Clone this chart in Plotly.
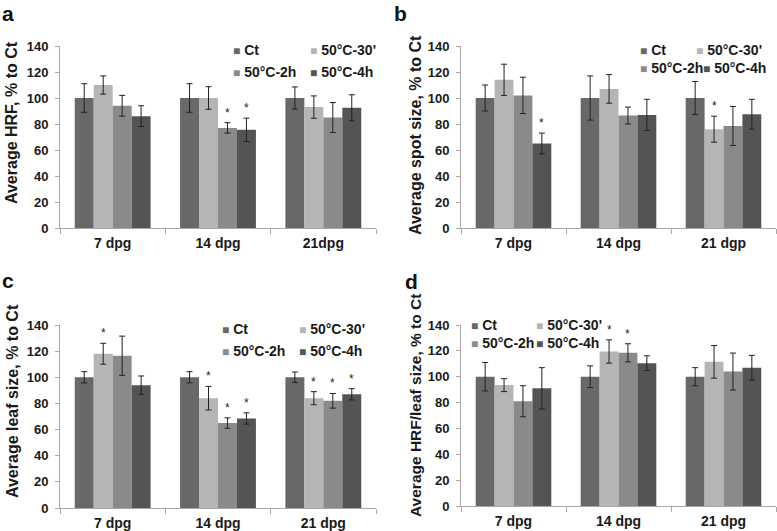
import plotly.graph_objects as go

series = ["Ct", "50°C-30'", "50°C-2h", "50°C-4h"]
colors = ["#686868", "#b5b5b5", "#8a8a8a", "#545454"]

cats_a = ["7 dpg", "14 dpg", "21dpg"]
cats_b = ["7 dpg", "14 dpg", "21 dgp"]
cats_c = ["7 dpg", "14 dpg", "21 dpg"]
cats_d = ["7 dpg", "14 dpg", "21 dpg"]

# panel a: Average HRF
a_ct = [100, 100, 100]
a_30 = [110, 100, 93]
a_2h = [94, 77, 85]
a_4h = [86, 75.5, 92.5]
a_ct_err = [11, 11, 8.5]
a_30_err = [7, 8.7, 8.6]
a_2h_err = [8, 4, 11.5]
a_4h_err = [8, 9, 10]
a_stars = [(1, 2), (1, 3)]

# panel b: Average spot size
b_ct = [100, 100, 100]
b_30 = [114, 107, 76]
b_2h = [102, 86.5, 78.5]
b_4h = [65, 87, 87.5]
b_ct_err = [10, 17, 12.7]
b_30_err = [12, 11, 10]
b_2h_err = [14, 6.5, 15]
b_4h_err = [8, 12, 11.5]
b_stars = [(0, 3), (2, 1)]

# panel c: Average leaf size
c_ct = [100, 100, 100]
c_30 = [118, 84, 84]
c_2h = [116.5, 65, 82]
c_4h = [94, 68.5, 87]
c_ct_err = [4.3, 4.3, 4]
c_30_err = [8, 9, 5]
c_2h_err = [15, 4, 5.6]
c_4h_err = [7, 4.3, 4.3]
c_stars = [(0, 1), (1, 1), (1, 2), (1, 3), (2, 1), (2, 2), (2, 3)]

# panel d: Average HRF/leaf size
d_ct = [100, 100, 100]
d_30 = [93.5, 119.5, 111.5]
d_2h = [81, 118.5, 104]
d_4h = [91, 110.5, 107]
d_ct_err = [11, 8.4, 7]
d_30_err = [5, 9, 12.6]
d_2h_err = [12, 7, 14.3]
d_4h_err = [16, 5.7, 9.5]
d_stars = [(1, 1), (1, 2)]

W, H = 777, 531
FONT = "Liberation Sans, Arial, sans-serif"
BARGAP = 0.28
TEXT_OFF = 40   # legend text offset from legend left edge

panels = [
    dict(cats=cats_a, vals=[a_ct, a_30, a_2h, a_4h], errs=[a_ct_err, a_30_err, a_2h_err, a_4h_err],
         stars=a_stars, title="Average HRF, % to Ct", letter="a", tsize=16,
         px=(60, 376), py=(46, 228), tx=12, ty=123, lx=0, ly=0,
         leg=[(233, 50), (310, 50), (233, 72), (310, 72)]),
    dict(cats=cats_b, vals=[b_ct, b_30, b_2h, b_4h], errs=[b_ct_err, b_30_err, b_2h_err, b_4h_err],
         stars=b_stars, title="Average spot size, % to Ct", letter="b", tsize=16,
         px=(461, 776), py=(46, 228), tx=415, ty=135, lx=392, ly=0,
         leg=[(640, 50), (696, 50), (640, 68), (703, 68)]),
    dict(cats=cats_c, vals=[c_ct, c_30, c_2h, c_4h], errs=[c_ct_err, c_30_err, c_2h_err, c_4h_err],
         stars=c_stars, title="Average leaf size, % to Ct", letter="c", tsize=16,
         px=(60, 376), py=(325, 508), tx=12, ty=401, lx=0, ly=267,
         leg=[(222, 329), (299, 329), (222, 351), (299, 351)]),
    dict(cats=cats_d, vals=[d_ct, d_30, d_2h, d_4h], errs=[d_ct_err, d_30_err, d_2h_err, d_4h_err],
         stars=d_stars, title="Average HRF/leaf size, % to Ct", letter="d", tsize=15.5,
         px=(461, 776), py=(325, 506), tx=415, ty=406, lx=403, ly=268,
         leg=[(471, 325), (536, 325), (471, 343), (536, 343)]),
]

fig = go.Figure()
layout = dict(width=W, height=H, margin=dict(l=0, r=0, t=0, b=0, autoexpand=False),
              paper_bgcolor="white", plot_bgcolor="white",
              barmode="group", bargap=BARGAP, bargroupgap=0,
              font=dict(family=FONT, color="#1a1a1a"), showlegend=True)
annotations = []

for k, p in enumerate(panels):
    xa = "x" if k == 0 else f"x{k+1}"
    ya = "y" if k == 0 else f"y{k+1}"
    xkey = "xaxis" if k == 0 else f"xaxis{k+1}"
    ykey = "yaxis" if k == 0 else f"yaxis{k+1}"
    for i, name in enumerate(series):
        n = 4 * k + i + 1
        lkey = "legend" if n == 1 else f"legend{n}"
        grp = f"p{k}s{i}"
        fig.add_trace(go.Bar(
            x=p["cats"], y=p["vals"][i], name=name, xaxis=xa, yaxis=ya,
            marker=dict(color=colors[i], line=dict(width=0)),
            error_y=dict(type="data", array=p["errs"][i], color="#222222", thickness=1, width=3),
            legendgroup=grp, showlegend=False,
        ))
        # legend entry: coloured square glyph + label (symbol itself kept invisible)
        fig.add_trace(go.Scatter(
            x=[None], y=[None], xaxis=xa, yaxis=ya, mode="markers",
            marker=dict(color="rgba(0,0,0,0)", size=1, line=dict(width=0)),
            name=f'<span style="color:{colors[i]};font-size:12px">■</span> {name}',
            legend=lkey, legendgroup=grp, showlegend=True, hoverinfo="skip",
        ))
        tx0, ty0 = p["leg"][i]
        layout[lkey] = dict(x=(tx0 - TEXT_OFF) / W, y=1 - ty0 / H,
                            xanchor="left", yanchor="middle", orientation="h",
                            bgcolor="rgba(0,0,0,0)", borderwidth=0,
                            font=dict(family=FONT, size=14, weight="bold", color="#1a1a1a"))
    layout[xkey] = dict(domain=[p["px"][0] / W, p["px"][1] / W], anchor=ya,
                        type="category", showline=True, linecolor="#a8a8a8", linewidth=1,
                        ticks="outside", tickson="boundaries", ticklen=5, tickcolor="#a8a8a8",
                        ticklabelstandoff=2,
                        tickfont=dict(family=FONT, size=14, weight="bold", color="#1a1a1a"),
                        showgrid=False, zeroline=False, range=[-0.5, 2.5])
    layout[ykey] = dict(domain=[1 - p["py"][1] / H, 1 - p["py"][0] / H], anchor=xa,
                        range=[0, 140], dtick=20, showline=True, linecolor="#a8a8a8", linewidth=1,
                        ticks="outside", ticklen=4, tickcolor="#a8a8a8", ticklabelstandoff=4,
                        tickfont=dict(family=FONT, size=13, weight="bold", color="#1a1a1a"),
                        showgrid=False, zeroline=False)
    # y-axis title
    annotations.append(dict(xref="paper", yref="paper", x=p["tx"] / W, y=1 - p["ty"] / H,
                            text=p["title"], textangle=-90, showarrow=False,
                            xanchor="center", yanchor="middle",
                            font=dict(family=FONT, size=p["tsize"], weight="bold", color="#1a1a1a")))
    # panel letter
    annotations.append(dict(xref="paper", yref="paper", x=p["lx"] / W, y=1 - p["ly"] / H,
                            text=p["letter"], showarrow=False, xanchor="left", yanchor="top",
                            font=dict(family=FONT, size=21, weight="bold", color="#111111")))
    # significance stars
    bw = (1 - BARGAP) / 4
    for (ci, si) in p["stars"]:
        top = p["vals"][si][ci] + p["errs"][si][ci]
        annotations.append(dict(xref=xa, yref=ya, x=ci + (si - 1.5) * bw, y=top,
                                text="*", showarrow=False, xanchor="center", yanchor="bottom",
                                yshift=1, font=dict(family=FONT, size=12, color="#222222")))

layout["annotations"] = annotations
fig.update_layout(**layout)
fig.write_html("out.html", config={"displayModeBar": False},
               post_script="document.body.style.margin='0';document.body.style.overflow='hidden';")
